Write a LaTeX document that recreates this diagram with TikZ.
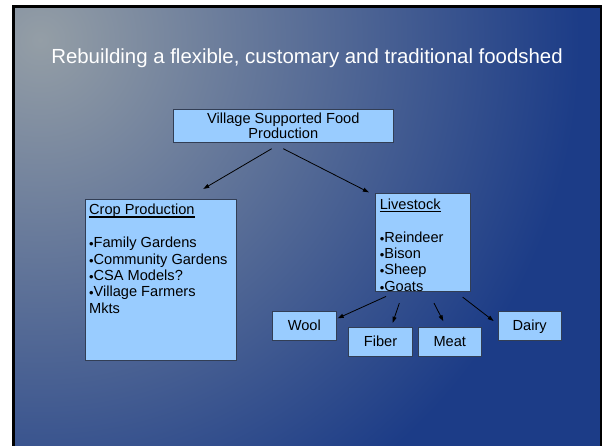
\documentclass[tikz,border=0pt]{standalone}
\usepackage{fontspec}
\setmainfont{Liberation Sans}
\usetikzlibrary{positioning}
\usetikzlibrary{arrows.meta}
\definecolor{slidegray}{RGB}{148,158,166}
\definecolor{slideblue}{RGB}{28,60,135}
\definecolor{boxblue}{RGB}{153,204,255}
\definecolor{boxline}{RGB}{50,62,85}
\newcommand{\headul}[1]{\setbox0\hbox{#1}\rlap{\rule[-2.7pt]{\wd0}{1.2pt}}#1}
\newcommand{\itemdot}{\raisebox{-1pt}{\fontsize{13}{13}\selectfont •}}
\tikzset{
  foodbox/.style={rectangle,draw=boxline,fill=boxblue,line width=0.8pt,inner sep=0pt,font=\fontsize{14.6}{16.4}\selectfont},
  smallbox/.style={foodbox,minimum width=63.3pt,minimum height=29pt,text height=10.5pt,text depth=0pt},
  foodtext/.style={anchor=north west,inner sep=0pt,align=left,font=\fontsize{14.6}{16.4}\selectfont},
  foodarrow/.style={-{Triangle[length=6pt,width=4pt]},line width=0.8pt},
}
\begin{document}
\begin{tikzpicture}[x=1pt,y=-1pt]
\useasboundingbox (0,0) rectangle (602,445);
\fill[white] (-5,-5) rectangle (610,455);
\fill[black] (12,5) rectangle (610,455);
\begin{scope}
\clip (15,8) rectangle (600,455);
\fill[slideblue] (15,8) rectangle (600,455);
\shade[inner color=slidegray,outer color=slideblue] (40,40) circle (540pt);
\end{scope}

\node[font=\fontsize{20.4}{24}\selectfont,text=white,anchor=base] (title) at (307,63) {Rebuilding a flexible, customary and traditional foodshed};

\node[foodbox,minimum width=220pt,minimum height=33pt,align=center,font=\fontsize{14.6}{15}\selectfont] (vsfp) at (283.3,125.8) {Village Supported Food\\Production};

\node[foodbox,minimum width=151pt,minimum height=161pt] (crop) at (160.5,279.5) {};
\node[foodtext] (croptxt) at ([xshift=4.3pt,yshift=-5.5pt]crop.north west) {\headul{Crop Production}\\[16.4pt]\itemdot Family Gardens\\\itemdot Community Gardens\\\itemdot CSA Models?\\\itemdot Village Farmers\\Mkts};

\node[foodbox,minimum width=95pt,minimum height=97.7pt] (stock) at (423.2,242.2) {};
\node[foodtext] (stocktxt) at ([xshift=4.3pt,yshift=-5.5pt]stock.north west) {\headul{Livestock}\\[16.4pt]\itemdot Reindeer\\\itemdot Bison\\\itemdot Sheep\\\itemdot Goats};

\node[smallbox] (wool) at (304.3,325.5) {Wool};
\node[smallbox] (fiber) at (380.5,341.7) {Fiber};
\node[smallbox] (meat) at (449.8,341.7) {Meat};
\node[smallbox] (dairy) at (529.7,325.5) {Dairy};

\draw[foodarrow] ([xshift=-11.6pt,yshift=-6pt]vsfp.south) -- ([xshift=42.8pt,yshift=9.7pt]crop.north);
\draw[foodarrow] ([yshift=-6pt]vsfp.south) -- ([xshift=-6.4pt,yshift=0.6pt]stock.north west);
\draw[foodarrow] ([xshift=-37.2pt,yshift=-5pt]stock.south) -- ([xshift=1.3pt,yshift=7.2pt]wool.east);
\draw[foodarrow] ([xshift=-23.9pt,yshift=-11.7pt]stock.south) -- ([xshift=12.2pt,yshift=4pt]fiber.north);
\draw[foodarrow] ([xshift=10.8pt,yshift=-11.7pt]stock.south) -- ([xshift=-6.5pt,yshift=5.6pt]meat.north);
\draw[foodarrow] ([xshift=39.5pt,yshift=-5.7pt]stock.south) -- ([xshift=-4pt,yshift=4.5pt]dairy.west);

\end{tikzpicture}
\end{document}
